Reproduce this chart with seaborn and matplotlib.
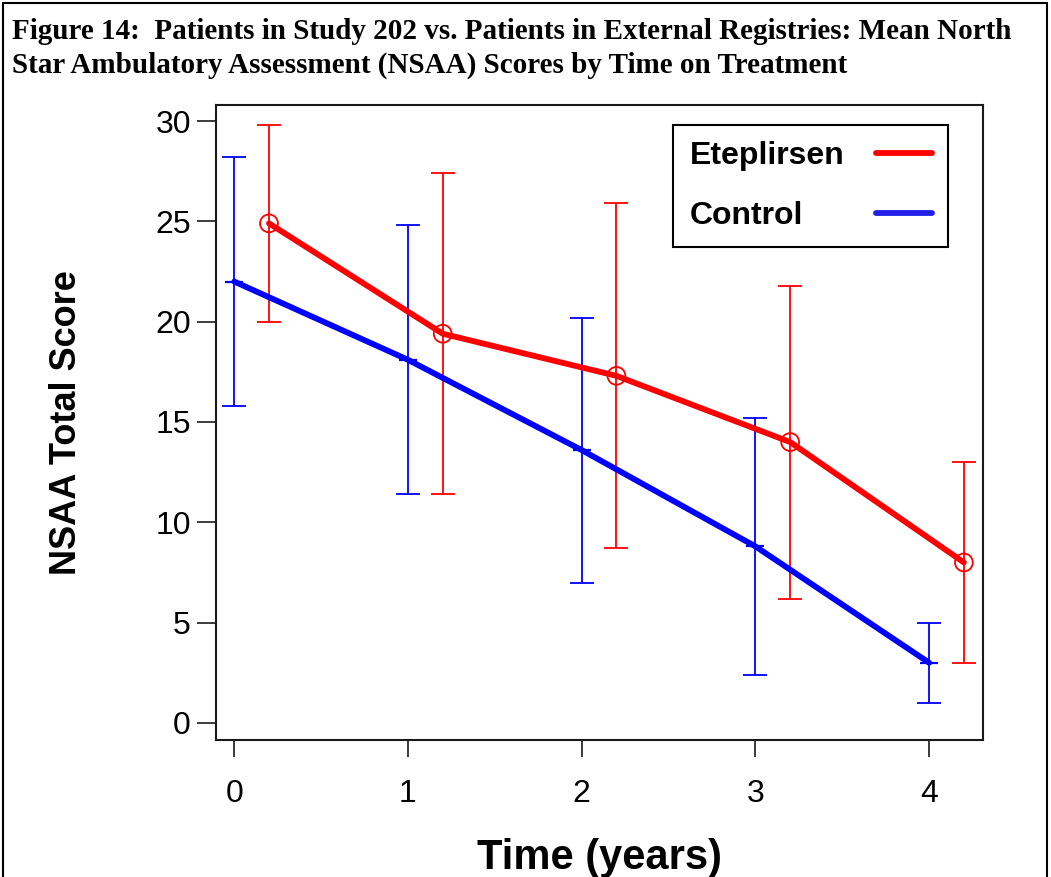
import numpy as np
import pandas as pd
import matplotlib
matplotlib.use('Agg')
import matplotlib.pyplot as plt
import seaborn as sns
from matplotlib.lines import Line2D

# 데이터
years = [0, 1, 2, 3, 4]
etep_mean = [24.9, 19.4, 17.3, 14.0, 8.0]
etep_sd = [4.9, 8.0, 8.6, 7.8, 5.0]
ctrl_mean = [22.0, 18.1, 13.6, 8.8, 3.0]
ctrl_sd = [6.2, 6.7, 6.6, 6.4, 2.0]
etep_shift = 0.2  # 처리군은 옆으로 살짝 밀어서 표시

title = ('Figure 14:  Patients in Study 202 vs. Patients in External Registries: Mean North\n'
         'Star Ambulatory Assessment (NSAA) Scores by Time on Treatment')

df = pd.DataFrame({
    'time': [t + etep_shift for t in years] + years,
    'score': etep_mean + ctrl_mean,
    'group': ['Eteplirsen'] * 5 + ['Control'] * 5,
})

sns.set_style('ticks')
plt.rcParams['font.family'] = ['Liberation Sans', 'DejaVu Sans']
for k in ['text.color', 'axes.labelcolor', 'xtick.color', 'ytick.color']:
    plt.rcParams[k] = 'black'

W, H = 1051, 877
fig = plt.figure(figsize=(W / 100, H / 100), dpi=100)
ax = fig.add_axes([216 / W, 1 - 740 / H, (983 - 216) / W, (740 - 105) / H])

pal = {'Eteplirsen': '#ff0000', 'Control': '#0000ff'}

sns.lineplot(data=df, x='time', y='score', hue='group', palette=pal,
             linewidth=4.2, legend=False, ax=ax, zorder=3)

# 오차 막대
ax.errorbar(df['time'][:5], etep_mean, yerr=etep_sd, fmt='none', ecolor='#ff0000',
            elinewidth=1.3, capsize=8.5, capthick=1.3, zorder=2)
ax.errorbar(df['time'][5:], ctrl_mean, yerr=ctrl_sd, fmt='none', ecolor='#0000ff',
            elinewidth=1.3, capsize=8.5, capthick=1.3, zorder=2)

# 평균 표시
sns.scatterplot(x=df['time'][:5], y=etep_mean, marker='o', s=165, facecolors='none',
                edgecolor='#ff0000', linewidth=1.3, ax=ax, zorder=4)
ax.plot(df['time'][5:], ctrl_mean, linestyle='none', marker='_', markersize=13,
        markeredgewidth=1.6, color='#0000ff', zorder=4)

ax.set_xlim(-0.105, 4.31)
ax.set_ylim(-0.85, 30.8)
ax.set_xticks(years)
ax.set_yticks(np.arange(0, 31, 5))

for side in ['left', 'right', 'top', 'bottom']:
    ax.spines[side].set_visible(True)
    ax.spines[side].set_linewidth(1.5)
    ax.spines[side].set_color('#1a1a1a')

ax.tick_params(axis='y', length=14, width=1.2, pad=4, labelsize=23, color='#1a1a1a')
ax.tick_params(axis='x', length=12, width=1.2, pad=16, labelsize=23, color='#1a1a1a')

ax.set_xlabel('Time (years)', fontsize=30, fontweight='bold')
ax.set_ylabel('NSAA Total Score', fontsize=26, fontweight='bold')
ax.xaxis.set_label_coords(0.5, -0.154)
ax.yaxis.set_label_coords(-0.172, 0.5)

handles = [Line2D([], [], color='#ff0000', lw=4.2),
           Line2D([], [], color='#2020e8', lw=4.2)]
leg = ax.legend(handles, ['Eteplirsen', 'Control'], loc='upper right',
                bbox_to_anchor=(948 / W, 1 - 125 / H), bbox_transform=fig.transFigure,
                markerfirst=False, fancybox=False, framealpha=1, edgecolor='black',
                prop={'weight': 'bold', 'size': 23}, handlelength=1.75,
                borderpad=0.5, labelspacing=0.95, handletextpad=1.0, borderaxespad=0)
leg.get_frame().set_linewidth(1.5)

# 범례 글자를 왼쪽 정렬로 (선은 오른쪽 끝에 그대로)
fig.canvas.draw()
rend = fig.canvas.get_renderer()
tw = [t.get_window_extent(rend).width for t in leg.get_texts()]
col = leg._legend_handle_box.get_children()[0]
col.align = 'left'
for item, w in zip(col.get_children(), tw):
    item.sep = item.sep + (max(tw) - w) * 72 / fig.dpi

fig.text(12 / W, 1 - 18 / H, title, ha='left', va='top', fontsize=21,
         fontweight='bold', family=['Liberation Serif', 'DejaVu Serif'], linespacing=1.3)

# 그림 테두리 (위, 왼쪽, 오른쪽)
fig.add_artist(Line2D([3 / W, 3 / W], [0, 1 - 3 / H], color='black', lw=1.5))
fig.add_artist(Line2D([3 / W, 1047 / W], [1 - 3 / H, 1 - 3 / H], color='black', lw=1.5))
fig.add_artist(Line2D([1047 / W, 1047 / W], [0, 1 - 3 / H], color='black', lw=1.5))

plt.savefig('out.png', dpi=100)
plt.close()
